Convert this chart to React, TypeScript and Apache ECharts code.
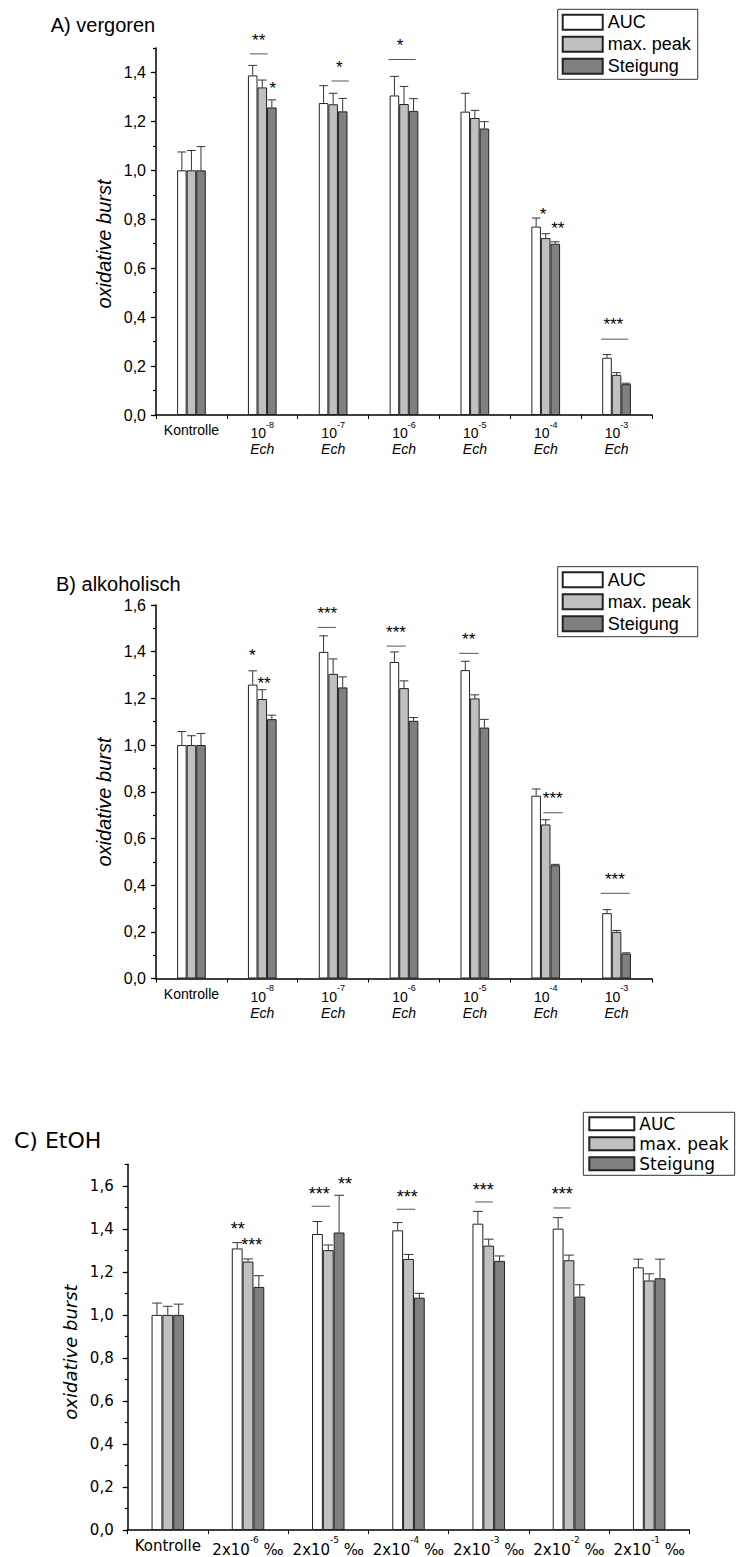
import React, { useEffect, useRef } from "react";
import * as echarts from "echarts";

// ---------- data ----------
const measures = ["AUC", "max. peak", "Steigung"];
const catsAB = ["Kontrolle", "10^-8", "10^-7", "10^-6", "10^-5", "10^-4", "10^-3"];
const catsC = ["Kontrolle", "2x10^-6 ‰", "2x10^-5 ‰", "2x10^-4 ‰", "2x10^-3 ‰", "2x10^-2 ‰", "2x10^-1 ‰"];

// Panel A – vergoren
const aucA = [1.0, 1.388, 1.275, 1.306, 1.24, 0.77, 0.234];
const aucAErr = [0.075, 0.041, 0.071, 0.078, 0.075, 0.035, 0.013];
const peakA = [1.0, 1.339, 1.27, 1.271, 1.214, 0.723, 0.164];
const peakAErr = [0.081, 0.03, 0.045, 0.072, 0.031, 0.018, 0.009];
const steigA = [1.0, 1.257, 1.241, 1.243, 1.171, 0.7, 0.126];
const steigAErr = [0.097, 0.031, 0.053, 0.05, 0.028, 0.008, 0.004];

// Panel B – alkoholisch
const aucB = [1.0, 1.259, 1.399, 1.356, 1.321, 0.783, 0.28];
const aucBErr = [0.058, 0.059, 0.069, 0.043, 0.038, 0.029, 0.015];
const peakB = [1.0, 1.197, 1.305, 1.244, 1.2, 0.66, 0.2];
const peakBErr = [0.04, 0.04, 0.064, 0.031, 0.015, 0.02, 0.006];
const steigB = [1.0, 1.111, 1.247, 1.104, 1.075, 0.485, 0.107];
const steigBErr = [0.05, 0.017, 0.045, 0.014, 0.035, 0.004, 0.003];

// Panel C – EtOH
const aucC = [1.0, 1.309, 1.376, 1.393, 1.424, 1.401, 1.221];
const aucCErr = [0.055, 0.027, 0.058, 0.036, 0.057, 0.051, 0.038];
const peakC = [1.0, 1.248, 1.301, 1.26, 1.322, 1.254, 1.16];
const peakCErr = [0.04, 0.012, 0.024, 0.021, 0.03, 0.024, 0.031];
const steigC = [1.0, 1.13, 1.383, 1.08, 1.251, 1.085, 1.17];
const steigCErr = [0.05, 0.052, 0.173, 0.02, 0.023, 0.055, 0.089];

// significance marks: category, value of the text, text offset (in bar widths), optional bracket line
const sigA = [
  { cat: 1, y: 1.548, dx: -0.38, text: "**", line: [-1.29, 0.56, 1.476] },
  { cat: 1, y: 1.35, dx: 1.09, text: "*" },
  { cat: 2, y: 1.435, dx: 0.64, text: "*", line: [-0.16, 1.65, 1.365] },
  { cat: 3, y: 1.527, dx: -0.42, text: "*", line: [-1.63, 1.23, 1.453] },
  { cat: 5, y: 0.835, dx: -0.28, text: "*" },
  { cat: 5, y: 0.777, dx: 1.26, text: "**" },
  { cat: 6, y: 0.385, dx: -0.34, text: "***", line: [-1.62, 1.23, 0.31] },
];
const sigB = [
  { cat: 1, y: 1.4, dx: -1.04, text: "*" },
  { cat: 1, y: 1.281, dx: 0.18, text: "**" },
  { cat: 2, y: 1.582, dx: -0.61, text: "***", line: [-1.62, 0.29, 1.504] },
  { cat: 3, y: 1.5, dx: -0.84, text: "***", line: [-1.81, 0.18, 1.424] },
  { cat: 4, y: 1.468, dx: -0.65, text: "**", line: [-1.63, 0.39, 1.393] },
  { cat: 5, y: 0.79, dx: 0.73, text: "***", line: [-0.25, 1.78, 0.71] },
  { cat: 6, y: 0.443, dx: -0.17, text: "***", line: [-1.66, 1.37, 0.365] },
];
const sigC = [
  { cat: 1, y: 1.42, dx: -0.95, text: "**" },
  { cat: 1, y: 1.343, dx: 0.34, text: "***" },
  { cat: 2, y: 1.579, dx: -0.83, text: "***", line: [-1.53, 0.16, 1.505] },
  { cat: 2, y: 1.625, dx: 1.54, text: "**" },
  { cat: 3, y: 1.568, dx: -0.11, text: "***", line: [-1.09, 0.63, 1.491] },
  { cat: 4, y: 1.599, dx: -0.5, text: "***", line: [-1.24, 0.37, 1.525] },
  { cat: 5, y: 1.579, dx: -0.61, text: "***", line: [-1.44, 0.17, 1.497] },
];

const titles = ["A) vergoren", "B) alkoholisch", "C) EtOH"];
const yName = "oxidative burst";
const yMax = [1.5, 1.6, 1.7];

// ---------- styles ----------
const FA = "'Liberation Sans', Arial, sans-serif";
const FC = "'DejaVu Sans', sans-serif";
const fills = ["#ffffff", "#c0c0c0", "#808080"];
const BAR_FRAC = 0.135;

const panels = [
  { vals: [aucA, peakA, steigA], errs: [aucAErr, peakAErr, steigAErr], sig: sigA, cats: catsAB, ech: true, font: FA },
  { vals: [aucB, peakB, steigB], errs: [aucBErr, peakBErr, steigBErr], sig: sigB, cats: catsAB, ech: true, font: FA },
  { vals: [aucC, peakC, steigC], errs: [aucCErr, peakCErr, steigCErr], sig: sigC, cats: catsC, ech: false, font: FC },
];

const grids = [
  { left: 156, top: 48, width: 496, height: 367 },
  { left: 156, top: 605, width: 496, height: 373.5 },
  { left: 127.7, top: 1164.3, width: 561.6, height: 366.7 },
];

function xLabel(v: string, ech: boolean) {
  if (v.indexOf("^") < 0) return "{k|" + v + "}";
  const m = v.match(/^(.*?)\^(\S+)(.*)$/);
  if (!m) return v;
  let s = "{n|" + m[1] + "}{s|" + m[2] + "}" + (m[3] ? "{n|" + m[3] + "}" : "");
  if (ech) s += "\n{e|Ech}";
  return s;
}

export default function App() {
  const ref = useRef<HTMLDivElement>(null);
  useEffect(() => {
    document.body.style.margin = "0";
    if (!ref.current) return;
    const chart = echarts.init(ref.current, undefined, { renderer: "svg" });

    const xAxis: any[] = [];
    const yAxis: any[] = [];
    const series: any[] = [];
    const legend: any[] = [];
    const graphic: any[] = [];

    panels.forEach((p, pi) => {
      const isC = pi === 2;
      const fs = isC ? 15 : 14;
      const lh = isC ? 22 : 20;
      xAxis.push({
        type: "category",
        gridIndex: pi,
        data: p.cats,
        axisLine: { lineStyle: { color: "#000", width: 1.5 } },
        axisTick: { show: true, length: 4, inside: false, lineStyle: { color: "#000" } },
        axisLabel: {
          interval: 0,
          margin: 5,
          color: "#000",
          fontFamily: p.font,
          formatter: (v: string) => xLabel(v, p.ech),
          rich: {
            k: { fontSize: fs, lineHeight: lh, fontFamily: p.font, color: "#000" },
            n: { fontSize: fs, lineHeight: lh, verticalAlign: "bottom", fontFamily: p.font, color: "#000" },
            s: { fontSize: 9, lineHeight: 9, verticalAlign: "top", fontFamily: p.font, color: "#000" },
            e: { fontSize: 14, lineHeight: 18, fontStyle: "italic", fontFamily: p.font, color: "#000" },
          },
        },
      });
      yAxis.push({
        type: "value",
        gridIndex: pi,
        position: "left",
        min: 0,
        max: yMax[pi],
        interval: 0.2,
        splitLine: { show: false },
        axisLine: { show: true, lineStyle: { color: "#000", width: 1.5 } },
        axisTick: { show: true, length: 5, lineStyle: { color: "#000", width: 1.2 } },
        axisLabel: {
          margin: isC ? 14 : 10,
          fontSize: isC ? 15 : 16,
          fontFamily: p.font,
          color: "#000",
          showMaxLabel: yMax[pi] === 1.6,
          formatter: (v: number) => v.toFixed(1).replace(".", ","),
        },
      });
      yAxis.push({
        type: "value",
        gridIndex: pi,
        position: "left",
        offset: 0,
        min: 0,
        max: yMax[pi],
        interval: 0.1,
        splitLine: { show: false },
        axisLine: { show: false },
        axisTick: { show: true, length: 3, lineStyle: { color: "#000", width: 1.2 } },
        axisLabel: { show: false },
      });

      measures.forEach((name, k) => {
        series.push({
          type: "bar",
          name,
          xAxisIndex: pi,
          yAxisIndex: pi * 2,
          data: p.vals[k],
          barWidth: BAR_FRAC * 100 + "%",
          barGap: "0%",
          itemStyle: { color: fills[k], borderColor: "#222", borderWidth: 1 },
          z: 2,
        });
      });
      measures.forEach((name, k) => {
        series.push({
          type: "custom",
          name: name + " err",
          xAxisIndex: pi,
          yAxisIndex: pi * 2,
          data: p.vals[k].map((v, i) => [i, v + p.errs[k][i], v]),
          z: 3,
          itemStyle: { color: "#333" },
          renderItem: (params: any, api: any) => {
            const top = api.coord([api.value(0), api.value(1)]);
            const base = api.coord([api.value(0), api.value(2)]);
            const bw = api.size([1, 0])[0] * BAR_FRAC;
            const x = top[0] + (k - 1) * bw;
            const st = { stroke: "#333", lineWidth: 1 };
            return {
              type: "group",
              children: [
                { type: "line", shape: { x1: x, y1: base[1], x2: x, y2: top[1] }, style: st },
                { type: "line", shape: { x1: x - bw * 0.45, y1: top[1], x2: x + bw * 0.45, y2: top[1] }, style: st },
              ],
            };
          },
        });
      });
      series.push({
        type: "custom",
        name: "sig" + pi,
        xAxisIndex: pi,
        yAxisIndex: pi * 2,
        data: p.sig.map((s) => [s.cat, s.y]),
        z: 4,
        clip: false,
        itemStyle: { color: "#000" },
        renderItem: (params: any, api: any) => {
          const s = p.sig[params.dataIndex];
          const bw = api.size([1, 0])[0] * BAR_FRAC;
          const c = api.coord([s.cat, s.y]);
          const children: any[] = [
            {
              type: "text",
              style: {
                text: s.text,
                x: c[0] + s.dx * bw,
                y: c[1] + 4,
                align: "center",
                verticalAlign: "middle",
                font: (isC ? "18px " : "17px ") + FA,
                fill: "#000",
                stroke: "none",
                lineWidth: 0,
              },
            },
          ];
          if (s.line) {
            const ly = api.coord([s.cat, s.line[2]])[1];
            children.push({
              type: "line",
              shape: { x1: c[0] + s.line[0] * bw, y1: ly, x2: c[0] + s.line[1] * bw, y2: ly },
              style: { stroke: "#555", lineWidth: 1 },
            });
          }
          return { type: "group", children };
        },
      });

      legend.push({
        data: measures,
        orient: "vertical",
        left: isC ? 583.3 : 557.7,
        top: isC ? 1112.3 : pi === 0 ? 9.3 : 566.7,
        selectedMode: false,
        borderColor: "#333",
        borderWidth: 1,
        padding: isC ? [3, 6, 3, 5] : [4, 7, 4, 4],
        itemWidth: isC ? 45 : 40,
        itemHeight: isC ? 13 : 15,
        itemGap: isC ? 3 : 4,
        icon: "rect",
        textStyle: { fontSize: isC ? 17 : 18, fontFamily: p.font, color: "#000", padding: [0, 0, 0, 0] },
      });
    });

    graphic.push(
      { type: "text", left: 50.7, top: 15, style: { text: titles[0], font: "20px " + FA, fill: "#000" } },
      { type: "text", left: 56, top: 574, style: { text: titles[1], font: "20px " + FA, fill: "#000" } },
      { type: "text", left: 14, top: 1129, style: { text: titles[2], font: "22px " + FC, fill: "#000" } },
      {
        type: "text",
        x: 103.5,
        y: 244,
        rotation: Math.PI / 2,
        style: { text: yName, font: "italic 20px " + FA, fill: "#000", align: "center", verticalAlign: "middle" },
      },
      {
        type: "text",
        x: 103.5,
        y: 802,
        rotation: Math.PI / 2,
        style: { text: yName, font: "italic 20px " + FA, fill: "#000", align: "center", verticalAlign: "middle" },
      },
      {
        type: "text",
        x: 70,
        y: 1352,
        rotation: Math.PI / 2,
        style: { text: yName, font: "italic 18px " + FC, fill: "#000", align: "center", verticalAlign: "middle" },
      }
    );

    chart.setOption({
      animation: false,
      backgroundColor: "#fff",
      grid: grids,
      xAxis,
      yAxis,
      series,
      legend,
      graphic,
    });
    return () => chart.dispose();
  }, []);
  return <div ref={ref} style={{ width: 738, height: 1557 }} />;
}
